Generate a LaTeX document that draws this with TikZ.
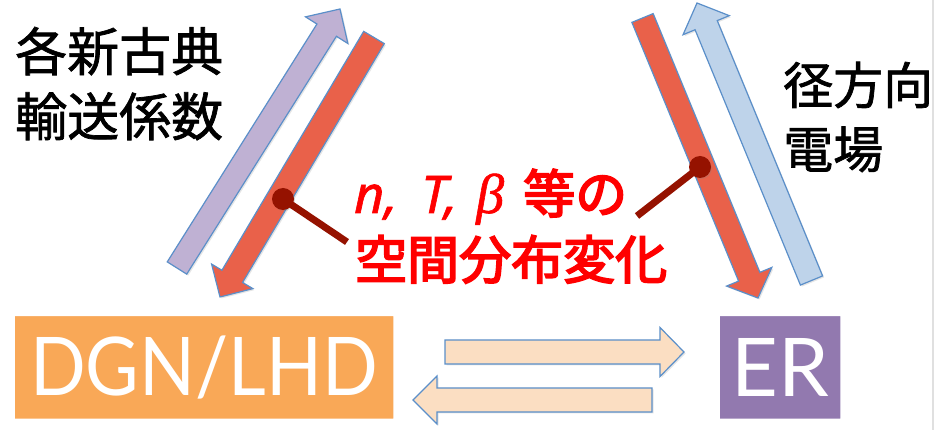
\documentclass[tikz,border=0pt]{standalone}
\usepackage{fontspec}
\usetikzlibrary{calc,shadows}
\newfontfamily\jp{Noto Sans CJK JP}
\newfontfamily\boxfont{Lato}
\newfontfamily\itsans{Noto Sans}
\newfontfamily\serifgr{Liberation Serif}
\definecolor{orangebox}{RGB}{249,168,87}
\definecolor{purplebox}{RGB}{146,121,175}
\definecolor{arrowred}{RGB}{233,97,74}
\definecolor{arrowpurple}{RGB}{191,177,211}
\definecolor{arrowblue}{RGB}{190,211,234}
\definecolor{arrowpeach}{RGB}{251,222,194}
\definecolor{outlineblue}{RGB}{91,143,201}
\definecolor{dkred}{RGB}{149,18,0}
\definecolor{txtred}{RGB}{255,0,0}
\newcommand\blockarrow[6]{%
  \path ($(#2)!#5!(#1)$) coordinate (hb);
  \draw[#6] ($(#1)!#3!90:(#2)$) -- ($(hb)!#3!90:(#2)$) -- ($(hb)!#4!90:(#2)$) -- (#2)
    -- ($(hb)!#4!-90:(#2)$) -- ($(hb)!#3!-90:(#2)$) -- ($(#1)!#3!-90:(#2)$) -- cycle;}
% #1 stroke colour (pdf RG), #2 width, #3 text
\newcommand\thicktext[3]{\special{pdf:literal direct #1 RG 2 Tr #2 w}#3\special{pdf:literal direct 0 Tr}}
\tikzset{
  boxnode/.style={draw=white, line width=7.5pt, rounded corners=3pt, inner sep=0pt,
    drop shadow={shadow xshift=1.5pt, shadow yshift=-2pt, opacity=0.35},
    text=white, font=\boxfont\fontsize{81}{90}\selectfont},
  blk/.style={draw=outlineblue, line width=1.2pt, line join=miter,
    drop shadow={shadow xshift=1.5pt, shadow yshift=-1.5pt, opacity=0.2}},
  blacktxt/.style={anchor=base west, inner sep=0pt, font=\jp\fontsize{52}{60}\selectfont},
  redtxt/.style={anchor=base west, inner sep=0pt, text=txtred, font=\jp\fontsize{52}{60}\selectfont},
  dot/.style={circle, fill=dkred, minimum size=22pt, inner sep=0pt,
    drop shadow={shadow xshift=1pt, shadow yshift=-1pt, opacity=0.25}},
  link/.style={draw=dkred, line width=7pt}
}
\begin{document}
\begin{tikzpicture}[x=1pt,y=-1pt]
\useasboundingbox (0,0) rectangle (935,430);
\fill[white] (0,0) rectangle (935,430);
\draw[black!12, line width=2.5pt] (933,0) -- (933,430);

% boxes
\node[boxnode, fill=orangebox, minimum width=386pt, minimum height=110pt] (dgn) at (204,367.5) {\scalebox{0.905}[1]{DGN/LHD}};
\node[boxnode, fill=purplebox, minimum width=128pt, minimum height=110pt] (er) at (780,367.5) {ER};

% diagonal and horizontal block arrows
\coordinate (lpT) at (177,268);   \coordinate (lpP) at (340,9);
\coordinate (lrT) at (374,37.5);  \coordinate (lrP) at (220,297);
\coordinate (rrT) at (642.5,18);  \coordinate (rrP) at (758,298);
\coordinate (rbT) at (811.5,280.5); \coordinate (rbP) at (697,3);
\coordinate (hrT) at (445,352);   \coordinate (hrP) at (684,352);
\coordinate (hlT) at (652,400);   \coordinate (hlP) at (413,400);

\blockarrow{lpT}{lpP}{11.5pt}{25pt}{25pt}{blk, fill=arrowpurple}
\blockarrow{lrT}{lrP}{12pt}{24pt}{24pt}{blk, fill=arrowred}
\blockarrow{rbT}{rbP}{12pt}{25pt}{24pt}{blk, fill=arrowblue}
\blockarrow{rrT}{rrP}{11.5pt}{24.5pt}{23pt}{blk, fill=arrowred}
\blockarrow{hrT}{hrP}{12pt}{24.5pt}{24pt}{blk, fill=arrowpeach}
\blockarrow{hlT}{hlP}{12pt}{24pt}{24pt}{blk, fill=arrowpeach}

% connectors
\node[dot] (d1) at (283,199) {};
\node[dot] (d2) at (700,167) {};
\coordinate (e1) at (347,242);
\coordinate (e2) at (637,216);
\draw[link] (d1.center) -- (e1);
\draw[link] (d2.center) -- (e2);

% texts
\node[blacktxt] (t1) at (15,71) {\thicktext{0 0 0}{0.7}{各新古典}};
\node[blacktxt] (t2) at (15,136) {\thicktext{0 0 0}{0.7}{輸送係数}};
\node[blacktxt, font=\jp\fontsize{50}{58}\selectfont] (t3) at (783,104) {\thicktext{0 0 0}{0.7}{径方向}};
\node[blacktxt, font=\jp\fontsize{50}{58}\selectfont] (t4) at (783,168) {\thicktext{0 0 0}{0.7}{電場}};

\node[redtxt] (r1) at (354,213) {\thicktext{1 0 0}{0.6}{\makebox[67pt][l]{\itsans\itshape n,}\makebox[55pt][l]{\itsans\itshape T,}\makebox[47pt][l]{\serifgr\itshape\fontsize{56}{60}\selectfont β}}\thicktext{1 0 0}{1.8}{等の}};
\node[redtxt] (r2) at (355,279) {\thicktext{1 0 0}{1.8}{空間分布変化}};
\end{tikzpicture}
\end{document}
